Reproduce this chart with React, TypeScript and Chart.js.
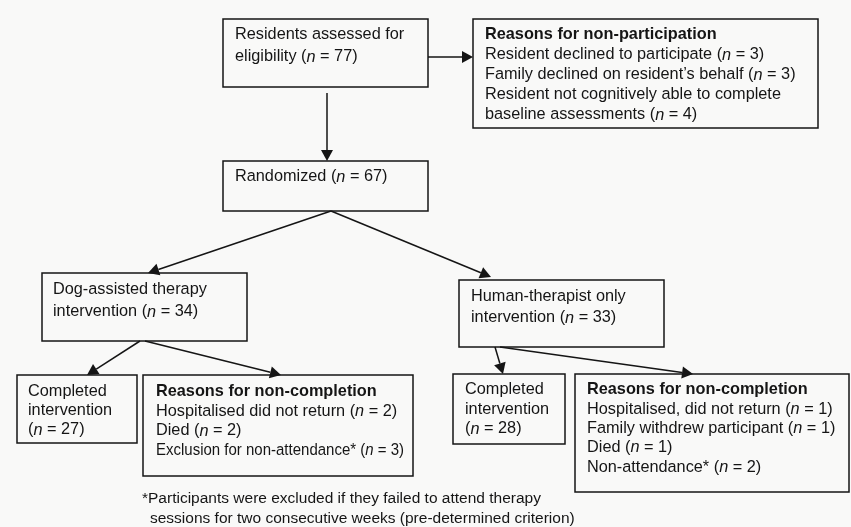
import React, { useEffect, useRef } from "react";
import { Chart, registerables } from "chart.js";

Chart.register(...registerables);

// ---- Node texts ("#" = bold line, "{n}" = italic n) ----
const nodeTexts: string[][] = [
  ["Residents assessed for", "eligibility ({n} = 77)"],
  [
    "#Reasons for non-participation",
    "Resident declined to participate ({n} = 3)",
    "Family declined on resident\u2019s behalf ({n} = 3)",
    "Resident not cognitively able to complete",
    "baseline assessments ({n} = 4)",
  ],
  ["Randomized ({n} = 67)"],
  ["Dog-assisted therapy", "intervention ({n} = 34)"],
  ["Human-therapist only", "intervention ({n} = 33)"],
  ["Completed", "intervention", "({n} = 27)"],
  [
    "#Reasons for non-completion",
    "Hospitalised did not return ({n} = 2)",
    "Died ({n} = 2)",
    "Exclusion for non-attendance* ({n} = 3)",
  ],
  ["Completed", "intervention", "({n} = 28)"],
  [
    "#Reasons for non-completion",
    "Hospitalised, did not return ({n} = 1)",
    "Family withdrew participant ({n} = 1)",
    "Died ({n} = 1)",
    "Non-attendance* ({n} = 2)",
  ],
];

const footnoteLines: string[] = [
  "*Participants were excluded if they failed to attend therapy",
  "sessions for two consecutive weeks (pre-determined criterion)",
];

// ---- Layout (axis units: x 0..851, y 0..527 top-down) ----
// [left, top, right, bottom]
const nodeBoxes: number[][] = [
  [223, 19, 428, 87],
  [473, 19, 818, 128],
  [223, 161, 428, 211],
  [42, 273, 247, 341],
  [459, 280, 664, 347],
  [17, 375, 137, 443],
  [143, 375, 413, 476],
  [453, 374, 565, 444],
  [575, 374, 849, 492],
];
// [text x, first line centre y, line height]
const nodeTextPos: number[][] = [
  [235, 35, 22],
  [485, 35, 20],
  [235, 177, 20],
  [53, 290, 22],
  [471, 297, 21],
  [28, 392, 19],
  [156, 392, 19.5],
  [465, 390, 19.5],
  [587, 390, 19.3],
];
// lines squeezed to a given width: [node index, line index, width]
const lineFits: number[][] = [[6, 3, 248]];
// [x0, y0, tipX, tipY]
const arrows: number[][] = [
  [428, 57, 473, 57],
  [327, 93, 327, 161],
  [331, 211, 148, 273],
  [331, 211, 491, 277],
  [140, 341, 87, 375],
  [145, 341, 281, 375],
  [495, 347, 503, 374],
  [500, 347, 693, 374],
];
const footnotePos: number[][] = [
  [142, 499],
  [150, 519],
];

const FONT_FAMILY = '"Liberation Sans", Arial, Helvetica, sans-serif';
const FONT_SIZE = 16.3;
const FOOT_SIZE = 15.5;
const INK = "#151515";

function drawRich(
  ctx: CanvasRenderingContext2D,
  raw: string,
  x: number,
  y: number,
  size: number,
  fit?: number,
) {
  let bold = false;
  let line = raw;
  if (line.startsWith("#")) {
    bold = true;
    line = line.slice(1);
  }
  const parts = line.split(/(\{n\})/).filter((p) => p);
  const fontFor = (p: string) =>
    `${p === "{n}" ? "italic " : ""}${bold ? "bold " : ""}${size}px ${FONT_FAMILY}`;
  let total = 0;
  for (const p of parts) {
    ctx.font = fontFor(p);
    total += ctx.measureText(p === "{n}" ? "n" : p).width;
  }
  const sx = fit && total > fit ? fit / total : 1;
  ctx.save();
  ctx.translate(x, y);
  ctx.scale(sx, 1);
  let cx = 0;
  for (const p of parts) {
    const txt = p === "{n}" ? "n" : p;
    ctx.font = fontFor(p);
    ctx.fillText(txt, cx, 0);
    cx += ctx.measureText(txt).width;
  }
  ctx.restore();
}

const flowPlugin = {
  id: "flow",
  beforeDraw(chart: any) {
    const ctx = chart.ctx as CanvasRenderingContext2D;
    ctx.save();
    ctx.fillStyle = "#f9f9f8";
    ctx.fillRect(0, 0, chart.width, chart.height);
    ctx.restore();
  },
  afterDraw(chart: any) {
    const ctx = chart.ctx as CanvasRenderingContext2D;
    const xs = chart.scales.x;
    const ys = chart.scales.y;
    const X = (v: number) => xs.getPixelForValue(v);
    const Y = (v: number) => ys.getPixelForValue(v);
    ctx.save();
    ctx.strokeStyle = INK;
    ctx.fillStyle = INK;
    ctx.lineWidth = 1.5;
    nodeBoxes.forEach((b) => {
      ctx.strokeRect(X(b[0]), Y(b[1]), X(b[2]) - X(b[0]), Y(b[3]) - Y(b[1]));
    });
    arrows.forEach((a) => {
      const x0 = X(a[0]);
      const y0 = Y(a[1]);
      const x1 = X(a[2]);
      const y1 = Y(a[3]);
      const ang = Math.atan2(y1 - y0, x1 - x0);
      const L = 11;
      const W = 6;
      const bx = x1 - L * Math.cos(ang);
      const by = y1 - L * Math.sin(ang);
      ctx.beginPath();
      ctx.moveTo(x0, y0);
      ctx.lineTo(bx, by);
      ctx.stroke();
      ctx.beginPath();
      ctx.moveTo(x1, y1);
      ctx.lineTo(bx + W * Math.sin(ang), by - W * Math.cos(ang));
      ctx.lineTo(bx - W * Math.sin(ang), by + W * Math.cos(ang));
      ctx.closePath();
      ctx.fill();
    });
    ctx.textBaseline = "middle";
    ctx.textAlign = "left";
    nodeTexts.forEach((lines, i) => {
      const [tx, ty, lh] = nodeTextPos[i];
      lines.forEach((ln, j) => {
        const f = lineFits.find((q) => q[0] === i && q[1] === j);
        drawRich(ctx, ln, X(tx), Y(ty + j * lh), FONT_SIZE, f ? f[2] : undefined);
      });
    });
    footnoteLines.forEach((ln, i) => {
      drawRich(ctx, ln, X(footnotePos[i][0]), Y(footnotePos[i][1]), FOOT_SIZE);
    });
    ctx.restore();
  },
};

export default function App() {
  const ref = useRef<HTMLCanvasElement | null>(null);
  useEffect(() => {
    if (!ref.current) return;
    const chart = new Chart(ref.current, {
      type: "scatter",
      data: {
        datasets: [
          {
            data: nodeBoxes.map((b) => ({ x: (b[0] + b[2]) / 2, y: (b[1] + b[3]) / 2 })),
            pointRadius: 0,
          },
        ],
      },
      options: {
        animation: false,
        responsive: false,
        events: [],
        layout: { padding: 0 },
        plugins: { legend: { display: false }, tooltip: { enabled: false } },
        scales: {
          x: { type: "linear", min: 0, max: 851, display: false },
          y: { type: "linear", min: 0, max: 527, reverse: true, display: false },
        },
      },
      plugins: [flowPlugin],
    });
    return () => chart.destroy();
  }, []);
  return (
    <div style={{ position: "fixed", left: 0, top: 0, width: 851, height: 527 }}>
      <canvas ref={ref} width={851} height={527} style={{ display: "block" }} />
    </div>
  );
}
